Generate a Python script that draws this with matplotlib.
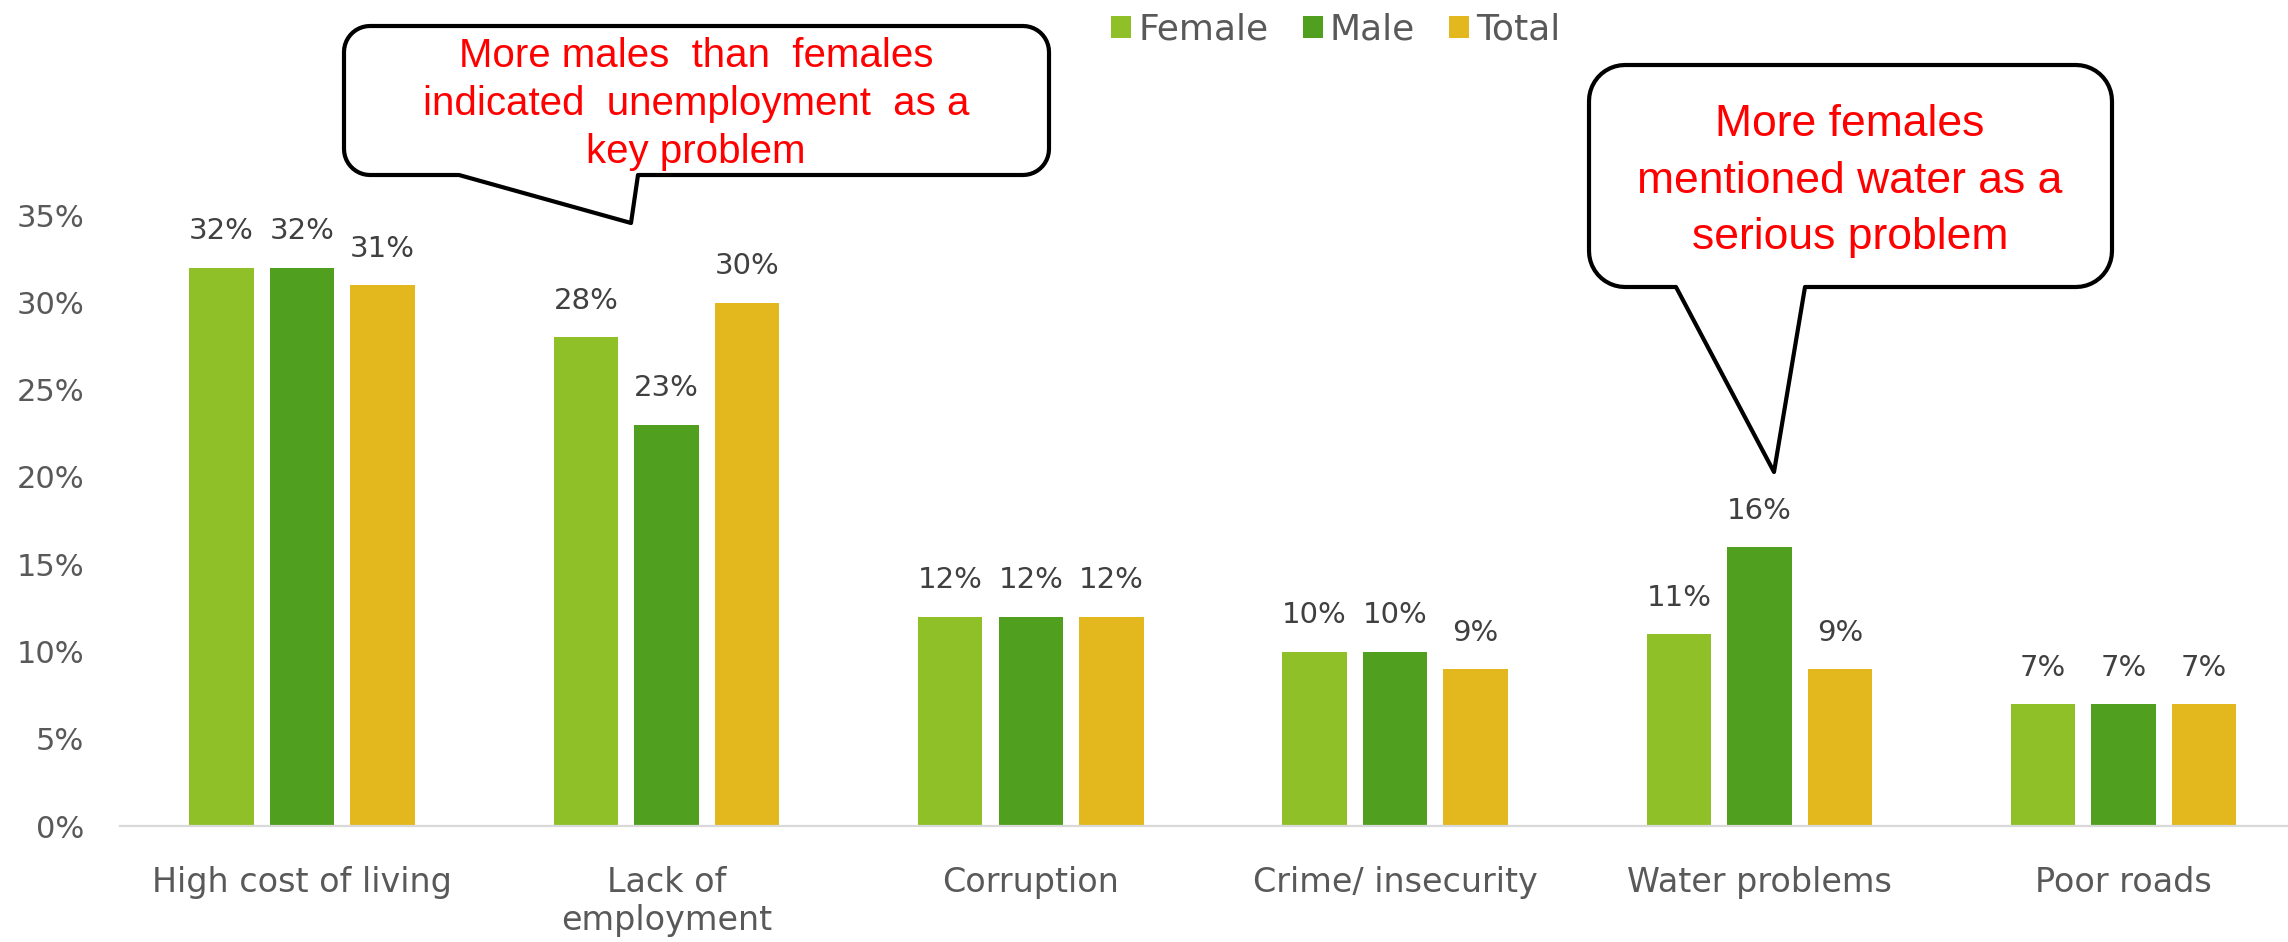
import numpy as np
import matplotlib
matplotlib.use("Agg")
import matplotlib.pyplot as plt
from matplotlib.patches import Polygon, Patch
from matplotlib.ticker import FuncFormatter

# ---------------- data ----------------
categories = ["High cost of living", "Lack of\nemployment", "Corruption",
              "Crime/ insecurity", "Water problems", "Poor roads"]
series_names = ["Female", "Male", "Total"]
female = [32, 28, 12, 10, 11, 7]
male = [32, 23, 12, 10, 16, 7]
total = [31, 30, 12, 9, 9, 7]
yticks = [0, 5, 10, 15, 20, 25, 30, 35]
colors = ["#8FC028", "#519F1F", "#E3B81E"]

callout1_text = "More males  than  females\nindicated  unemployment  as a\nkey problem"
callout2_text = "More females\nmentioned water as a\nserious problem"

# ---------------- figure ----------------
W, H = 2288, 942
fig = plt.figure(figsize=(W / 100, H / 100), dpi=100)
plt.rcParams['font.family'] = ['DejaVu Sans']

base_px = 826.0
px_per_pct = 17.45
group_px = 364.3
c0_px = 302.5
left_px = 120.0

ax = fig.add_axes([left_px / W, (H - base_px) / H, (W - left_px) / W, base_px / H])
ax.set_ylim(0, base_px / px_per_pct)
ax.set_xlim(-0.5, -0.5 + (W - left_px) / group_px)

x = np.arange(len(categories))
bw = 0.177
off = 0.221
all_series = [female, male, total]
for i, (vals, name, col) in enumerate(zip(all_series, series_names, colors)):
    bars = ax.bar(x + (i - 1) * off, vals, width=bw, color=col, label=name, zorder=2)
    ax.bar_label(bars, labels=[f"{v}%" for v in vals], padding=16,
                 fontsize=21, color="#404040")

ax.set_yticks(yticks)
ax.yaxis.set_major_formatter(FuncFormatter(lambda v, p: f"{int(v)}%"))
ax.set_xticks(x)
ax.set_xticklabels(categories)
ax.tick_params(axis='y', length=0, pad=26, labelsize=22, labelcolor="#595959")
ax.tick_params(axis='x', length=0, pad=29, labelsize=24, labelcolor="#595959")
for lab in ax.get_xticklabels():
    lab.set_linespacing(1.2)
for s in ["top", "right", "left"]:
    ax.spines[s].set_visible(False)
ax.spines["bottom"].set_color("#D9D9D9")
ax.spines["bottom"].set_linewidth(1.6)
ax.set_facecolor("none")

# legend
handles = [Patch(facecolor=c, edgecolor="none") for c in colors]
fig.legend(handles, series_names, loc="center",
           bbox_to_anchor=(1336 / W, 1 - 30 / H), bbox_transform=fig.transFigure,
           ncol=3, frameon=False, fontsize=26, handlelength=0.55, handleheight=0.55,
           handletextpad=0.2, columnspacing=0.95, borderpad=0, labelcolor="#595959")


# ---------------- callouts ----------------
def arc(cx, cy, r, a0, a1, n=12):
    a = np.linspace(np.radians(a0), np.radians(a1), n)
    return [(cx + r * np.cos(t), cy + r * np.sin(t)) for t in a]


def callout(x0, y0, x1, y1, r, bl, br, tip):
    # pixel coords, y downward
    pts = []
    pts += arc(x1 - r, y0 + r, r, -90, 0)       # top-right corner
    pts += arc(x1 - r, y1 - r, r, 0, 90)        # bottom-right corner
    pts += [(br, y1), tip, (bl, y1)]
    pts += arc(x0 + r, y1 - r, r, 90, 180)      # bottom-left corner
    pts += arc(x0 + r, y0 + r, r, 180, 270)     # top-left corner
    fpts = [(px / W, 1 - py / H) for px, py in pts]
    poly = Polygon(fpts, closed=True, facecolor="white", edgecolor="black",
                   linewidth=3.0, transform=fig.transFigure, zorder=5,
                   joinstyle="round")
    fig.add_artist(poly)


callout(344, 26, 1049, 175, 26, 459, 638, (631, 223))
fig.text(696 / W, 1 - 104 / H, callout1_text, ha="center", va="center",
         multialignment="center", fontsize=29, color="#FF0000",
         family="Liberation Sans", linespacing=1.32, zorder=6)

callout(1589, 65, 2112, 287, 36, 1676, 1805, (1774, 472))
fig.text(1850 / W, 1 - 181 / H, callout2_text, ha="center", va="center",
         multialignment="center", fontsize=32, color="#FF0000",
         family="Liberation Sans", linespacing=1.47, zorder=6)

fig.savefig("out.png", dpi=100, facecolor="white")
